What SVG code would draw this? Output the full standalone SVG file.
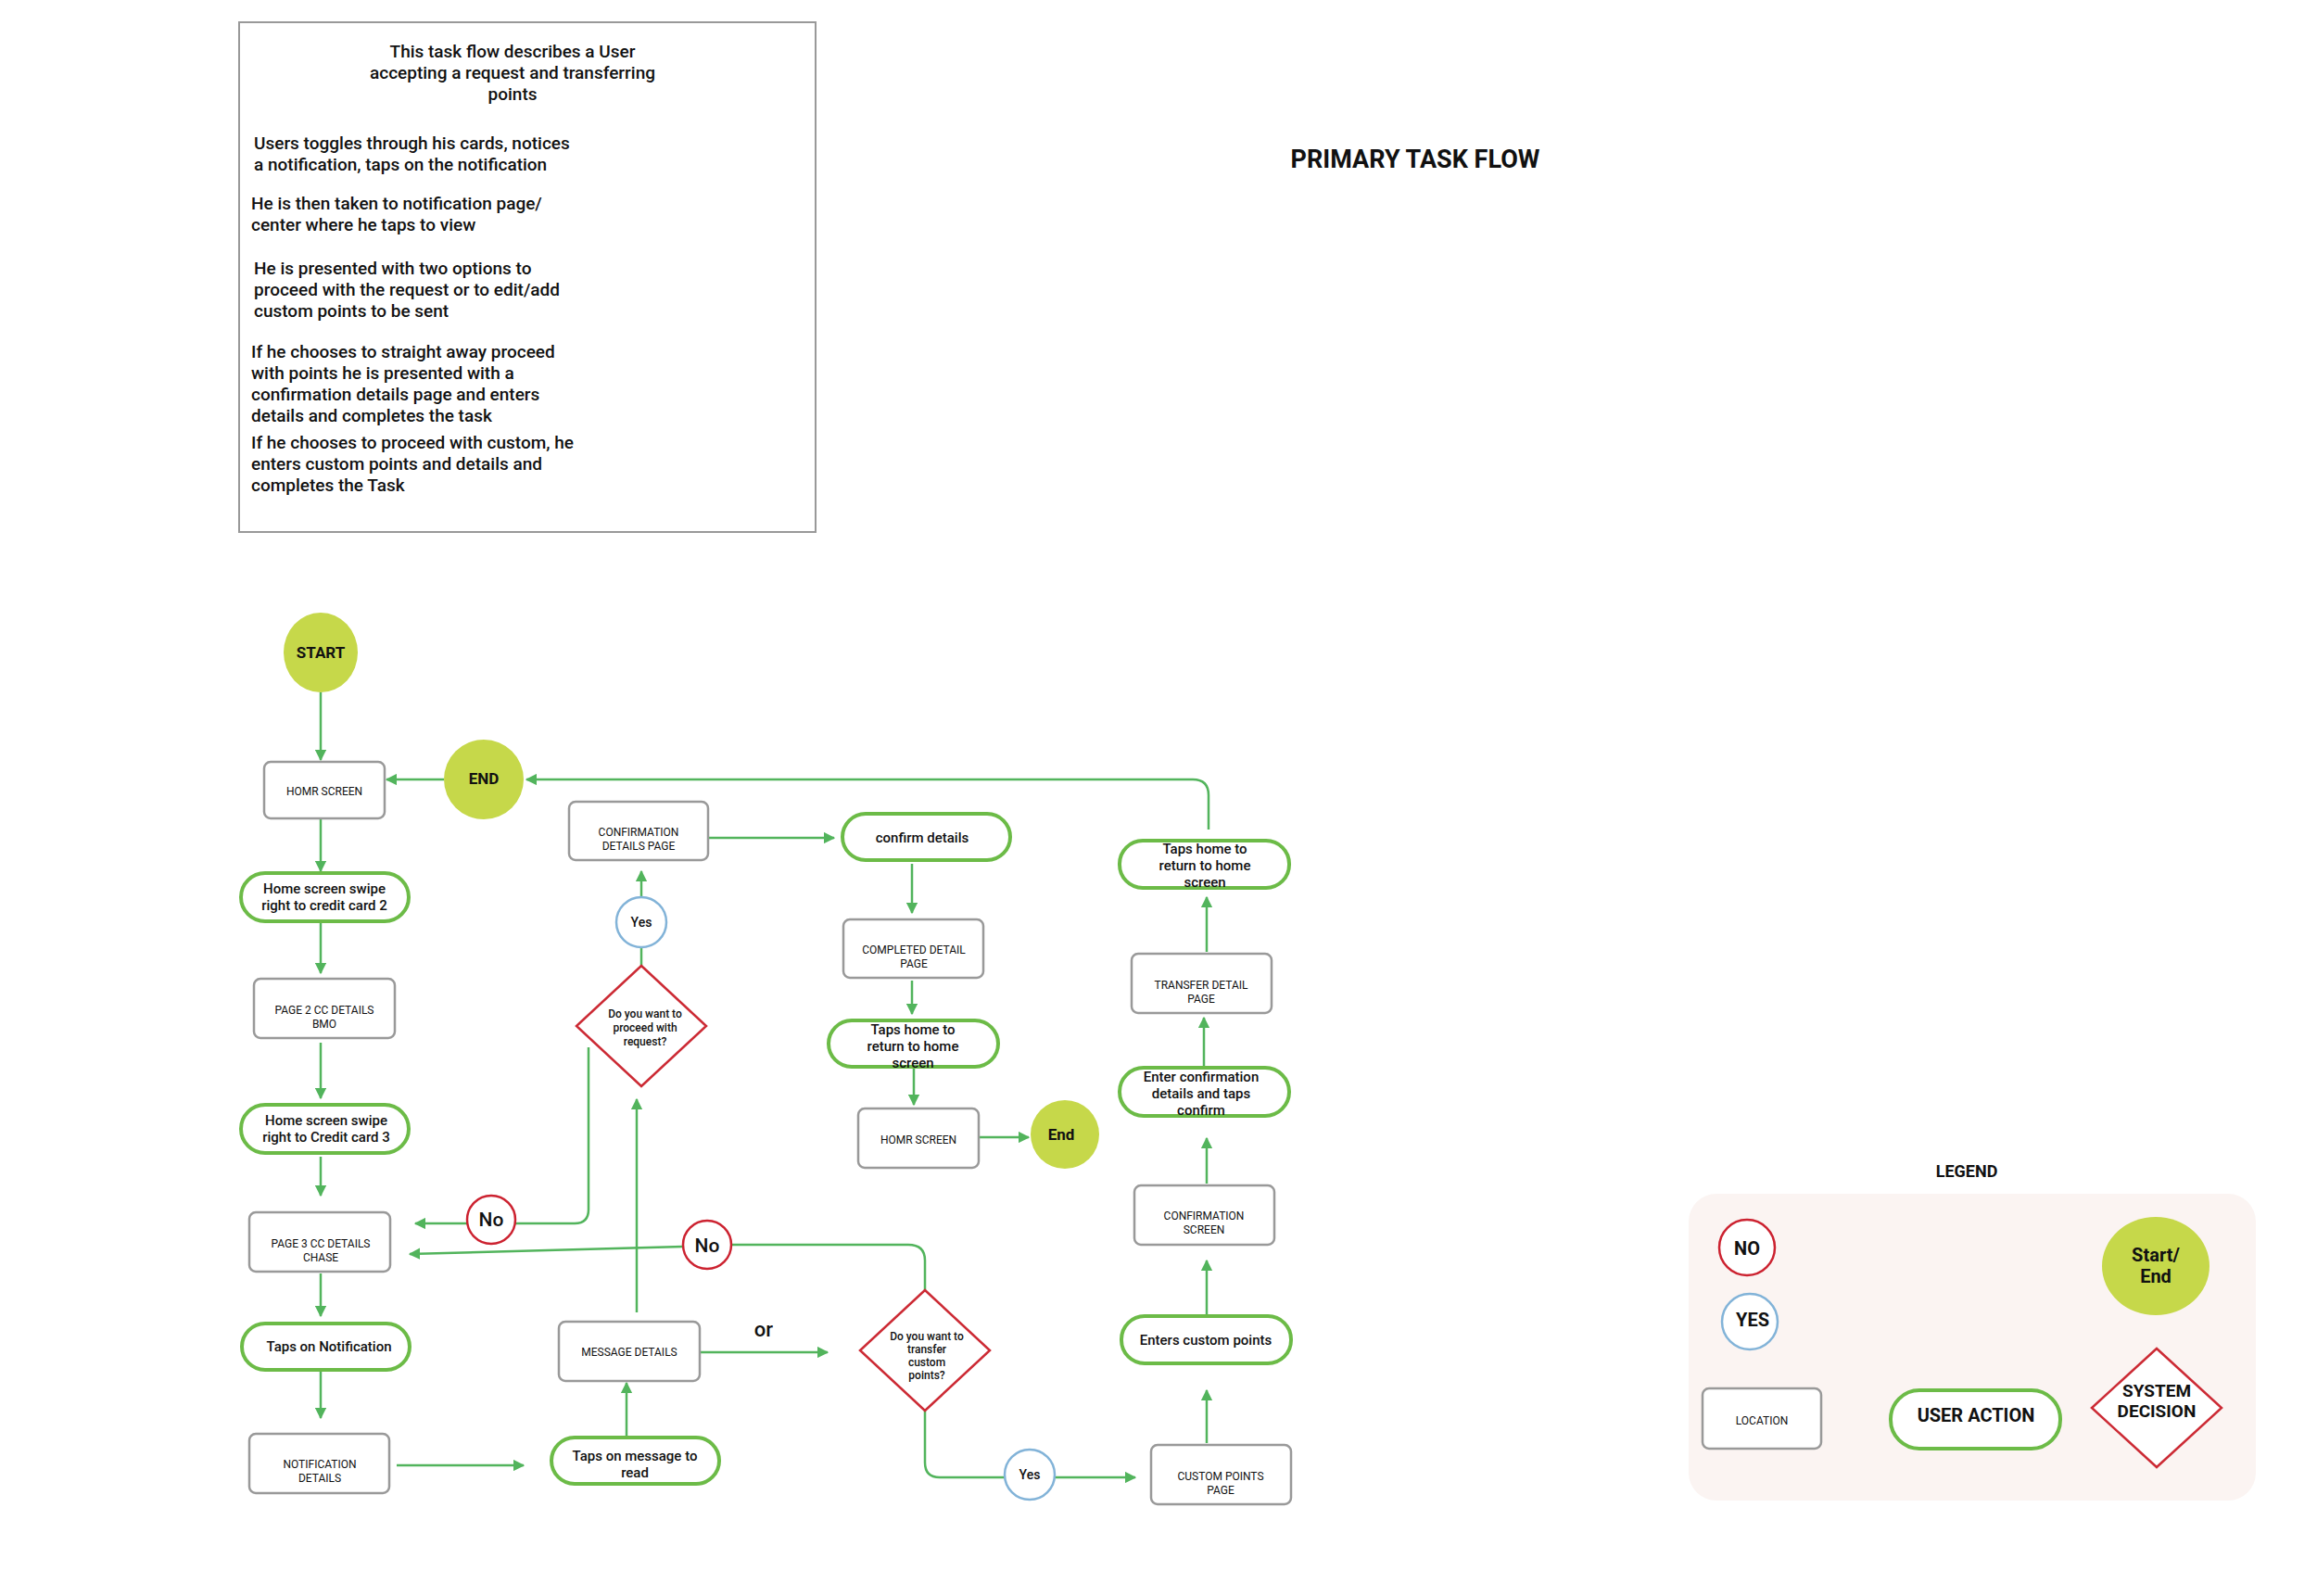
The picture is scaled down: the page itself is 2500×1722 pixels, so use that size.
<svg xmlns="http://www.w3.org/2000/svg" width="2500" height="1722" viewBox="0 0 2500 1722">
<style>
text{font-family:Roboto,"Liberation Sans",sans-serif;fill:#111}
.loc{fill:#fff;stroke:#999;stroke-width:2.5}
.loc-t{font-size:12px;text-anchor:middle}
.act{fill:#fff;stroke:#6cbb47;stroke-width:4}
.act-t{font-size:15px;font-weight:500;text-anchor:middle}
.se{fill:#c6d84a}
.se-t{font-size:17px;font-weight:bold;text-anchor:middle}
.dec{fill:#fff;stroke:#cc2a34;stroke-width:2.5}
.dec-t{font-size:12px;font-weight:500;text-anchor:middle}
.no{fill:#fff;stroke:#cc2230;stroke-width:2.5}
.yes{fill:#fff;stroke:#82b3d8;stroke-width:2.5}
.c{fill:none;stroke:#52b45c;stroke-width:2.5}
.p{font-size:19px;font-weight:500}
</style>
<defs><marker id="ah" viewBox="0 0 10 10" refX="9" refY="5" markerWidth="5" markerHeight="5" orient="auto"><path d="M0,0 L10,5 L0,10z" fill="#52b45c"/></marker></defs>
<g id="intro">
<rect x="258" y="24" width="622" height="550" fill="#fff" stroke="#999" stroke-width="2"/>
<g class="p" text-anchor="middle"><text x="553" y="62">This task flow describes a User</text><text x="553" y="85">accepting a request and transferring</text><text x="553" y="108">points</text></g>
<g class="p"><text x="274" y="161">Users toggles through his cards, notices</text><text x="274" y="184">a notification, taps on the notification</text>
<text x="271" y="226">He is then taken to notification page/</text><text x="271" y="249">center where he taps to view</text>
<text x="274" y="296">He is presented with two options to</text><text x="274" y="319">proceed with the request or to edit/add</text><text x="274" y="342">custom points to be sent</text>
<text x="271" y="386">If he chooses to straight away proceed</text><text x="271" y="409">with points he is presented with a</text><text x="271" y="432">confirmation details page and enters</text><text x="271" y="455">details and completes the task</text>
<text x="271" y="484">If he chooses to proceed with custom, he</text><text x="271" y="507">enters custom points and details and</text><text x="271" y="530">completes the Task</text></g>
</g>
<text id="title" x="1527" y="181" font-size="27" font-weight="bold" text-anchor="middle">PRIMARY TASK FLOW</text>
<g id="connectors">
<path class="c" marker-end="url(#ah)" d="M346,747V820"/>
<path class="c" marker-end="url(#ah)" d="M479,841H417"/>
<path class="c" marker-end="url(#ah)" d="M346,883V940"/>
<path class="c" marker-end="url(#ah)" d="M346,994V1050"/>
<path class="c" marker-end="url(#ah)" d="M346,1125V1185"/>
<path class="c" marker-end="url(#ah)" d="M346,1248V1290"/>
<path class="c" marker-end="url(#ah)" d="M346,1374V1420"/>
<path class="c" marker-end="url(#ah)" d="M346,1480V1530"/>
<path class="c" marker-end="url(#ah)" d="M428,1581H565"/>
<path class="c" marker-end="url(#ah)" d="M676,1551V1492"/>
<path class="c" marker-end="url(#ah)" d="M687,1416V1186"/>
<path class="c" d="M692,1042V1022"/>
<path class="c" marker-end="url(#ah)" d="M692,968V940"/>
<path class="c" d="M635,1130V1305Q635,1320 620,1320H556"/>
<path class="c" marker-end="url(#ah)" d="M504,1320H448"/>
<path class="c" d="M998,1392V1360Q998,1343 980,1343L789,1343"/>
<path class="c" marker-end="url(#ah)" d="M737,1345L442,1353"/>
<path class="c" marker-end="url(#ah)" d="M764,904H900"/>
<path class="c" marker-end="url(#ah)" d="M984,932V985"/>
<path class="c" marker-end="url(#ah)" d="M984,1058V1094"/>
<path class="c" marker-end="url(#ah)" d="M986,1153V1192"/>
<path class="c" marker-end="url(#ah)" d="M1056,1227H1110"/>
<path class="c" marker-end="url(#ah)" d="M755,1459H893"/>
<path class="c" d="M998,1522V1578Q998,1594 1014,1594H1084"/>
<path class="c" marker-end="url(#ah)" d="M1138,1594H1225"/>
<path class="c" marker-end="url(#ah)" d="M1302,1557V1500"/>
<path class="c" marker-end="url(#ah)" d="M1302,1418V1360"/>
<path class="c" marker-end="url(#ah)" d="M1302,1277V1228"/>
<path class="c" marker-end="url(#ah)" d="M1299,1150V1098"/>
<path class="c" marker-end="url(#ah)" d="M1302,1027V968"/>
<path class="c" marker-end="url(#ah)" d="M1304,895V858Q1304,841 1287,841H568"/>
</g>
<g id="start"><ellipse class="se" cx="346" cy="704" rx="40" ry="43"/><text class="se-t" x="346" y="710" font-size="19">START</text></g>
<g id="home1"><rect class="loc" x="285" y="822" width="130" height="61" rx="7"/><text class="loc-t" x="350" y="858">HOMR SCREEN</text></g>
<g id="end1"><circle class="se" cx="522" cy="841" r="43"/><text class="se-t" x="522" y="846" font-size="15">END</text></g>
<g id="swipe2"><rect class="act" x="260" y="942" width="181" height="52" rx="26"/><text class="act-t" x="350" y="964">Home screen swipe</text><text class="act-t" x="350" y="982">right to credit card 2</text></g>
<g id="page2"><rect class="loc" x="274" y="1056" width="152" height="64" rx="7"/><text class="loc-t" x="350" y="1094">PAGE 2 CC DETAILS</text><text class="loc-t" x="350" y="1109">BMO</text></g>
<g id="swipe3"><rect class="act" x="260" y="1192" width="181" height="52" rx="26"/><text class="act-t" x="352" y="1214">Home screen swipe</text><text class="act-t" x="352" y="1232">right to Credit card 3</text></g>
<g id="page3"><rect class="loc" x="269" y="1308" width="152" height="64" rx="7"/><text class="loc-t" x="346" y="1346">PAGE 3 CC DETAILS</text><text class="loc-t" x="346" y="1361">CHASE</text></g>
<g id="tapsnotif"><rect class="act" x="261" y="1428" width="181" height="50" rx="25"/><text class="act-t" x="355" y="1458">Taps on Notification</text></g>
<g id="notif"><rect class="loc" x="269" y="1547" width="151" height="64" rx="7"/><text class="loc-t" x="345" y="1584">NOTIFICATION</text><text class="loc-t" x="345" y="1599">DETAILS</text></g>
<g id="tapsmsg"><rect class="act" x="595" y="1551" width="181" height="50" rx="25"/><text class="act-t" x="685" y="1576">Taps on message to</text><text class="act-t" x="685" y="1594">read</text></g>
<g id="msg"><rect class="loc" x="603" y="1426" width="152" height="64" rx="7"/><text class="loc-t" x="679" y="1463">MESSAGE DETAILS</text></g>
<g id="confpage"><rect class="loc" x="614" y="865" width="150" height="63" rx="7"/><text class="loc-t" x="689" y="902">CONFIRMATION</text><text class="loc-t" x="689" y="917">DETAILS PAGE</text></g>
<g id="yes1"><circle class="yes" cx="692" cy="995" r="27"/><text x="692" y="1000" font-size="14" font-weight="500" text-anchor="middle">Yes</text></g>
<g id="dec1"><path class="dec" d="M692,1042L762,1107L692,1172L622,1107Z"/><text class="dec-t" x="696" y="1098">Do you want to</text><text class="dec-t" x="696" y="1113">proceed with</text><text class="dec-t" x="696" y="1128">request?</text></g>
<g id="no1"><circle class="no" cx="530" cy="1316" r="26"/><text x="530" y="1323" font-size="21" font-weight="500" text-anchor="middle">No</text></g>
<g id="no2"><circle class="no" cx="763" cy="1343" r="26"/><text x="763" y="1351" font-size="21" font-weight="500" text-anchor="middle">No</text></g>
<g id="confirm"><rect class="act" x="909" y="878" width="181" height="50" rx="25"/><text class="act-t" x="995" y="909">confirm details</text></g>
<g id="completed"><rect class="loc" x="910" y="992" width="151" height="63" rx="7"/><text class="loc-t" x="986" y="1029">COMPLETED DETAIL</text><text class="loc-t" x="986" y="1044">PAGE</text></g>
<g id="tapshome1"><rect class="act" x="894" y="1101" width="183" height="50" rx="25"/><text class="act-t" x="985" y="1116">Taps home to</text><text class="act-t" x="985" y="1134">return to home</text><text class="act-t" x="985" y="1152">screen</text></g>
<g id="home2"><rect class="loc" x="926" y="1196" width="130" height="64" rx="7"/><text class="loc-t" x="991" y="1234">HOMR SCREEN</text></g>
<g id="end2"><circle class="se" cx="1149" cy="1224" r="37"/><text class="se-t" x="1145" y="1230" font-size="15">End</text></g>
<g id="tapshome2"><rect class="act" x="1208" y="907" width="183" height="51" rx="25"/><text class="act-t" x="1300" y="921">Taps home to</text><text class="act-t" x="1300" y="939">return to home</text><text class="act-t" x="1300" y="957">screen</text></g>
<g id="transfer"><rect class="loc" x="1221" y="1029" width="151" height="64" rx="7"/><text class="loc-t" x="1296" y="1067">TRANSFER DETAIL</text><text class="loc-t" x="1296" y="1082">PAGE</text></g>
<g id="enterconf"><rect class="act" x="1208" y="1152" width="183" height="52" rx="26"/><text class="act-t" x="1296" y="1167">Enter confirmation</text><text class="act-t" x="1296" y="1185">details and taps</text><text class="act-t" x="1296" y="1203">confirm</text></g>
<g id="confscreen"><rect class="loc" x="1224" y="1279" width="151" height="64" rx="7"/><text class="loc-t" x="1299" y="1316">CONFIRMATION</text><text class="loc-t" x="1299" y="1331">SCREEN</text></g>
<g id="enters"><rect class="act" x="1210" y="1420" width="183" height="51" rx="25"/><text class="act-t" x="1301" y="1451">Enters custom points</text></g>
<g id="custom"><rect class="loc" x="1242" y="1559" width="151" height="64" rx="7"/><text class="loc-t" x="1317" y="1597">CUSTOM POINTS</text><text class="loc-t" x="1317" y="1612">PAGE</text></g>
<g id="dec2"><path class="dec" d="M998,1392L1068,1457L998,1522L928,1457Z"/><text class="dec-t" x="1000" y="1446">Do you want to</text><text class="dec-t" x="1000" y="1460">transfer</text><text class="dec-t" x="1000" y="1474">custom</text><text class="dec-t" x="1000" y="1488">points?</text></g>
<g id="yes2"><circle class="yes" cx="1111" cy="1591" r="27"/><text x="1111" y="1596" font-size="14" font-weight="500" text-anchor="middle">Yes</text></g>
<text id="or" x="824" y="1442" font-size="22" font-weight="500" text-anchor="middle">or</text>
<g id="legend">
<text x="2122" y="1270" font-size="18" font-weight="bold" text-anchor="middle">LEGEND</text>
<rect x="1822" y="1288" width="612" height="331" rx="30" fill="#fbf4f2"/>
<circle class="no" cx="1885" cy="1346" r="30"/><text x="1885" y="1354" font-size="20" font-weight="bold" text-anchor="middle">NO</text>
<circle class="yes" cx="1888" cy="1426" r="30"/><text x="1891" y="1431" font-size="20" font-weight="bold" text-anchor="middle">YES</text>
<rect class="loc" x="1837" y="1498" width="128" height="65" rx="7"/><text class="loc-t" x="1901" y="1537">LOCATION</text>
<rect class="act" x="2040" y="1500" width="183" height="63" rx="31"/><text x="2132" y="1534" font-size="20" font-weight="bold" text-anchor="middle">USER ACTION</text>
<ellipse class="se" cx="2326" cy="1366" rx="58" ry="53"/><text x="2326" y="1361" font-size="20" font-weight="bold" text-anchor="middle">Start/</text><text x="2326" y="1384" font-size="20" font-weight="bold" text-anchor="middle">End</text>
<path class="dec" d="M2327,1455L2397,1519L2327,1583L2257,1519Z"/><text x="2327" y="1507" font-size="19" font-weight="bold" text-anchor="middle">SYSTEM</text><text x="2327" y="1529" font-size="19" font-weight="bold" text-anchor="middle">DECISION</text>
</g>
</svg>
